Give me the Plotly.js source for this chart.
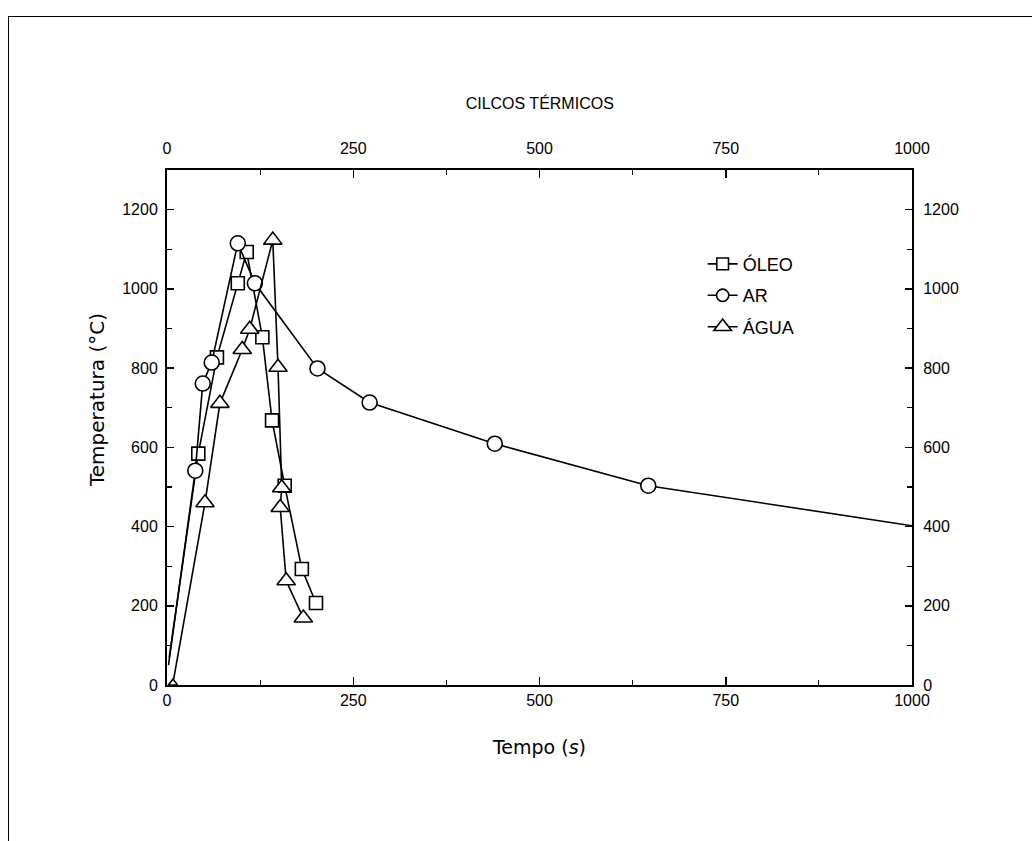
<!DOCTYPE html>
<html>
<head>
<meta charset="utf-8">
<script src="https://cdn.plot.ly/plotly-3.0.1.min.js"></script>
<style>
  html, body { margin: 0; padding: 0; background: #fff; }
  #frame { position: absolute; left: 8px; top: 16px; width: 1100px; height: 900px;
           border-left: 1.5px solid #000; border-top: 1.5px solid #000; pointer-events: none; }
  #chart { width: 1032px; height: 841px; }
</style>
</head>
<body>
<div id="chart"></div>
<div id="frame"></div>
<script>
// Tempo (s) and Temperatura (°C)
const oleoTime = [3, 42, 67, 95, 107, 128, 141, 158, 181, 200];
const oleoTemp = [70, 584, 827, 1014, 1093, 878, 668, 503, 293, 207];
const oleoMarkerShown = [0, 1, 1, 1, 1, 1, 1, 1, 1, 1];

const arTime = [2, 38, 48, 60, 95, 118, 202, 272, 440, 646, 1000];
const arTemp = [50, 541, 761, 814, 1115, 1014, 799, 713, 609, 503, 402];
const arMarkerShown = [0, 1, 1, 1, 1, 1, 1, 1, 1, 1, 0];

const aguaTime = [8, 51, 71, 101, 111, 142, 149, 154, 152, 160, 183];
const aguaTemp = [5, 460, 711, 847, 898, 1123, 802, 498, 448, 263, 169];
const aguaMarkerShown = [0.5, 1, 1, 1, 1, 1, 1, 1, 1, 1, 1];

const seriesNames = ['ÓLEO', 'AR', 'ÁGUA'];
const xTicks = [0, 250, 500, 750, 1000];
const yTicks = [0, 200, 400, 600, 800, 1000, 1200];

const markerBase = { color: '#ffffff', opacity: 1, line: { color: '#000', width: 1.6 } };
const lineStyle = { color: '#000', width: 1.6 };

const traces = [
  { x: oleoTime, y: oleoTemp, name: seriesNames[0], mode: 'lines+markers', legendgroup: 'a',
    line: lineStyle, marker: Object.assign({ symbol: 'square', size: oleoMarkerShown.map(v => v * 13) }, markerBase) },
  { x: arTime, y: arTemp, name: seriesNames[1], mode: 'lines+markers', legendgroup: 'b',
    line: lineStyle, marker: Object.assign({ symbol: 'circle', size: arMarkerShown.map(v => v * 15) }, markerBase) },
  { x: aguaTime, y: aguaTemp, name: seriesNames[2], mode: 'lines+markers', legendgroup: 'c',
    line: lineStyle, marker: Object.assign({ symbol: 'triangle-up', size: aguaMarkerShown.map(v => v * 16) }, markerBase) },
  // mirror axes (top & right) carry the same data invisibly
  { x: arTime, y: arTemp, xaxis: 'x2', yaxis: 'y2', mode: 'markers', showlegend: false,
    hoverinfo: 'skip', marker: { opacity: 0 } }
];

const tickFont = { family: 'Liberation Sans, Arial', size: 16, color: '#000' };

const layout = {
  width: 1032, height: 841,
  paper_bgcolor: '#fff', plot_bgcolor: '#fff',
  margin: { l: 167, r: 120, t: 170, b: 156 },
  showlegend: true,
  title: { text: 'CILCOS TÉRMICOS', x: 0.523, xanchor: 'center', y: 1 - 103/841, yanchor: 'middle',
           yref: 'container', xref: 'container',
           font: { family: 'Liberation Sans, Arial', size: 16, color: '#000' } },
  xaxis: {
    range: [0, 1000], tickvals: xTicks, ticks: 'inside', ticklen: 8, tickwidth: 1.5,
    minor: { dtick: 125, ticks: 'inside', ticklen: 5, tickwidth: 1.2, tickcolor: '#000' },
    showline: true, linecolor: '#000', linewidth: 2, showgrid: false, zeroline: false,
    tickfont: tickFont, tickcolor: '#000',
    title: { text: 'Tempo (<i>s</i>)', standoff: 32,
             font: { family: 'DejaVu Sans, Liberation Sans', size: 19, color: '#000' } }
  },
  yaxis: {
    range: [0, 1300], tickvals: yTicks, ticks: 'inside', ticklen: 7, tickwidth: 1.5,
    minor: { dtick: 100, ticks: 'inside', ticklen: 5, tickwidth: 1.2, tickcolor: '#000' },
    showline: true, linecolor: '#000', linewidth: 2, showgrid: false, zeroline: false,
    tickfont: tickFont, tickcolor: '#000', ticklabelstandoff: 4
  },
  xaxis2: {
    overlaying: 'x', side: 'top', range: [0, 1000], tickvals: xTicks, ticks: 'inside', ticklen: 8, tickwidth: 1.5,
    minor: { dtick: 125, ticks: 'inside', ticklen: 5, tickwidth: 1.2, tickcolor: '#000' },
    showline: true, linecolor: '#000', linewidth: 2, showgrid: false, zeroline: false,
    tickfont: tickFont, tickcolor: '#000', ticklabelstandoff: 8
  },
  yaxis2: {
    overlaying: 'y', side: 'right', range: [0, 1300], tickvals: yTicks, ticks: 'inside', ticklen: 7, tickwidth: 1.5,
    minor: { dtick: 100, ticks: 'inside', ticklen: 5, tickwidth: 1.2, tickcolor: '#000' },
    showline: true, linecolor: '#000', linewidth: 2, showgrid: false, zeroline: false,
    tickfont: tickFont, tickcolor: '#000', ticklabelstandoff: 6
  },
  annotations: [{
    text: 'Temperatura (°C)', textangle: -90, showarrow: false,
    xref: 'paper', yref: 'paper', x: (97 - 167) / 745, y: (685 - 400) / 515,
    xanchor: 'center', yanchor: 'middle',
    font: { family: 'DejaVu Sans, Liberation Sans', size: 20, color: '#000' }
  }],
  legend: {
    x: 0.719, y: 0.853, xanchor: 'left', yanchor: 'top',
    bgcolor: 'rgba(0,0,0,0)', borderwidth: 0,
    font: { family: 'Liberation Sans, Arial', size: 18, color: '#000' },
    traceorder: 'grouped', tracegroupgap: 5, itemsizing: 'trace'
  }
};

Plotly.newPlot('chart', traces, layout, { displayModeBar: false, staticPlot: true });
</script>
</body>
</html>
